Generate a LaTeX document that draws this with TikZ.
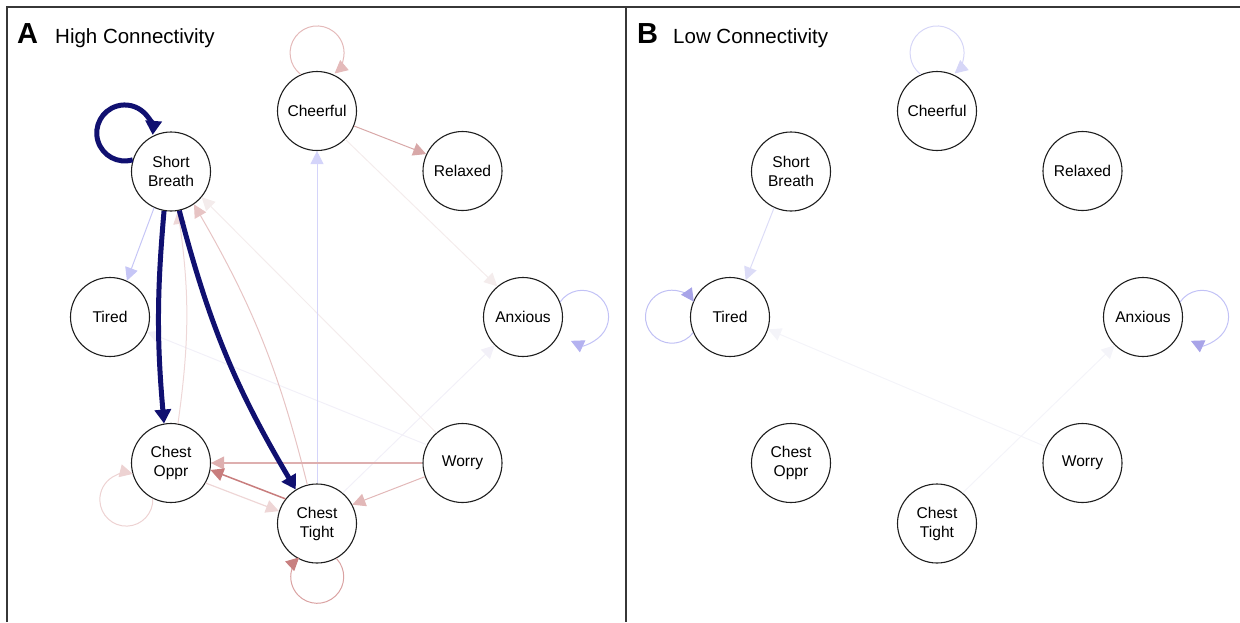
\documentclass[tikz,border=0pt]{standalone}
\usepackage{fontspec}
\setmainfont{Liberation Sans}
\usetikzlibrary{arrows.meta}
\definecolor{framec}{RGB}{55,55,55}
\definecolor{nodec}{RGB}{30,30,30}
\definecolor{navyc}{RGB}{16,16,112}
\definecolor{sbtic}{RGB}{198,198,246}
\definecolor{ctchc}{RGB}{212,212,250}
\definecolor{chrxc}{RGB}{216,168,168}
\definecolor{chloopc}{RGB}{228,186,186}
\definecolor{faintpink}{RGB}{244,236,236}
\definecolor{faintlav}{RGB}{242,240,248}
\definecolor{axloopc}{RGB}{194,194,246}
\definecolor{axtipc}{RGB}{180,178,240}
\definecolor{wococ}{RGB}{222,175,175}
\definecolor{woctc}{RGB}{226,184,184}
\definecolor{ctcoc}{RGB}{200,125,125}
\definecolor{coctc}{RGB}{238,214,214}
\definecolor{coloopc}{RGB}{237,210,210}
\definecolor{ctloopc}{RGB}{218,162,162}
\definecolor{cttipc}{RGB}{200,128,128}
\definecolor{cosbc}{RGB}{238,215,215}
\definecolor{ctsbc}{RGB}{231,196,196}
\definecolor{chloopbc}{RGB}{214,214,247}
\definecolor{sbtibc}{RGB}{220,220,247}
\definecolor{tiloopbc}{RGB}{192,192,244}
\definecolor{titipbc}{RGB}{168,164,232}
\definecolor{faintb}{RGB}{244,244,249}
\begin{document}
\begin{tikzpicture}[x=1pt,y=1pt,
  nd/.style={circle,draw=nodec,line width=1.1pt,minimum size=79pt,inner sep=0pt,fill=white,
    font=\fontsize{15.6}{19}\selectfont,align=center},
  arr/.style={line width=1pt,-{Triangle[length=13pt,width=13pt]}},
  bigarr/.style={line width=5pt,-{Triangle[length=14pt,width=16pt]}},
  framel/.style={draw=framec,line width=1.3pt},
  lettr/.style={anchor=base west,inner sep=0pt,font=\fontsize{29}{29}\selectfont\bfseries},
  ttl/.style={anchor=base west,inner sep=0pt,font=\fontsize{20.5}{24}\selectfont}
]
\useasboundingbox (0,0) rectangle (1240,-622);
% frame
\draw[framel] (7,-622) -- (7,-7) -- (1240,-7);
\draw[framel] (626,-7) -- (626,-622);
% titles
\node[lettr] (la) at (17,-43) {A};
\node[ttl] (ta) at (55,-43) {High Connectivity};
\node[lettr] (lb) at (637,-43) {B};
\node[ttl] (tb) at (673,-43) {Low Connectivity};

% ---------- Panel A nodes
\node[nd] (sb) at (171,-171.5) {Short\\Breath};
\node[nd] (ch) at (317,-111) {Cheerful};
\node[nd] (rx) at (462.5,-171) {Relaxed};
\node[nd] (ti) at (110,-317) {Tired};
\node[nd] (ax) at (523,-317) {Anxious};
\node[nd] (co) at (171,-463) {Chest\\Oppr};
\node[nd] (wo) at (462.5,-463) {Worry};
\node[nd] (ct) at (317,-523.5) {Chest\\Tight};

% ---------- Panel A edges
\draw[arr,draw=faintpink] (wo.131) -- (sb.-40);
\draw[arr,draw=faintlav] (wo.153) -- (ti.-22);
\draw[arr,draw=faintpink] (ch.-45) -- (ax.130);
\draw[arr,draw=faintlav] (ct.50) -- (ax.225);
\draw[arr,draw=ctchc] (ct.90) -- (ch.-90);
\draw[arr,draw=cosbc] (co.80) to[bend right=8] (sb.-80);
\draw[arr,draw=ctsbc] (ct.104) to[bend right=8] (sb.-55);
\draw[arr,draw=sbtic] (sb.-115) -- (ti.65);
\draw[arr,draw=chrxc] (ch.-22) -- (rx.155);
\draw[arr,draw=wococ,line width=1.2pt] (wo) -- (co);
\draw[arr,draw=woctc] (wo.200) -- (ct.28);
\draw[arr,draw=coctc,line width=1.2pt] (co.-30) -- (ct.162);
\draw[arr,draw=ctcoc,line width=1.5pt] (ct.142) -- (co.-10);
\draw[bigarr,draw=navyc] (sb.-100) to[bend right=5] (co.100);
\draw[bigarr,draw=navyc] (sb.-78) to[bend right=8] (ct.122);
% loops A
\draw[bigarr,draw=navyc] (sb.163) arc[start angle=-73.5,end angle=-364,radius=28pt];
\draw[arr,draw=chloopc] (ch.114) arc[start angle=232.7,end angle=-49.6,radius=27pt];
\draw[line width=1pt,draw=axloopc,-{Triangle[length=13pt,width=13pt,color=axtipc]}] (ax.22) arc[start angle=146,end angle=-115,radius=26.5pt];
\draw[arr,draw=coloopc] (co.243) arc[start angle=2,end angle=-284,radius=26.5pt];
\draw[line width=1pt,draw=ctloopc,-{Triangle[length=13pt,width=13pt,color=cttipc]}] (ct.-61) arc[start angle=43.6,end angle=-227,radius=26.5pt];

% ---------- Panel B nodes
\node[nd] (sbB) at (791,-171.5) {Short\\Breath};
\node[nd] (chB) at (937,-111) {Cheerful};
\node[nd] (rxB) at (1082.5,-171) {Relaxed};
\node[nd] (tiB) at (730,-317) {Tired};
\node[nd] (axB) at (1143,-317) {Anxious};
\node[nd] (coB) at (791,-463) {Chest\\Oppr};
\node[nd] (woB) at (1082.5,-463) {Worry};
\node[nd] (ctB) at (937,-523.5) {Chest\\Tight};

% ---------- Panel B edges
\draw[arr,draw=faintb] (woB.156) -- (tiB.-18);
\draw[arr,draw=faintb] (ctB.50) -- (axB.225);
\draw[arr,draw=sbtibc] (sbB.-115) -- (tiB.67);
\draw[arr,draw=chloopbc] (chB.114) arc[start angle=232.7,end angle=-49.6,radius=27pt];
\draw[line width=1pt,draw=tiloopbc,-{Triangle[length=13pt,width=13pt,color=titipbc]}] (tiB.203) arc[start angle=-37,end angle=-325.5,radius=26.5pt];
\draw[line width=1pt,draw=axloopc,-{Triangle[length=13pt,width=13pt,color=titipbc]}] (axB.22) arc[start angle=146,end angle=-115,radius=26.5pt];
\end{tikzpicture}
\end{document}
